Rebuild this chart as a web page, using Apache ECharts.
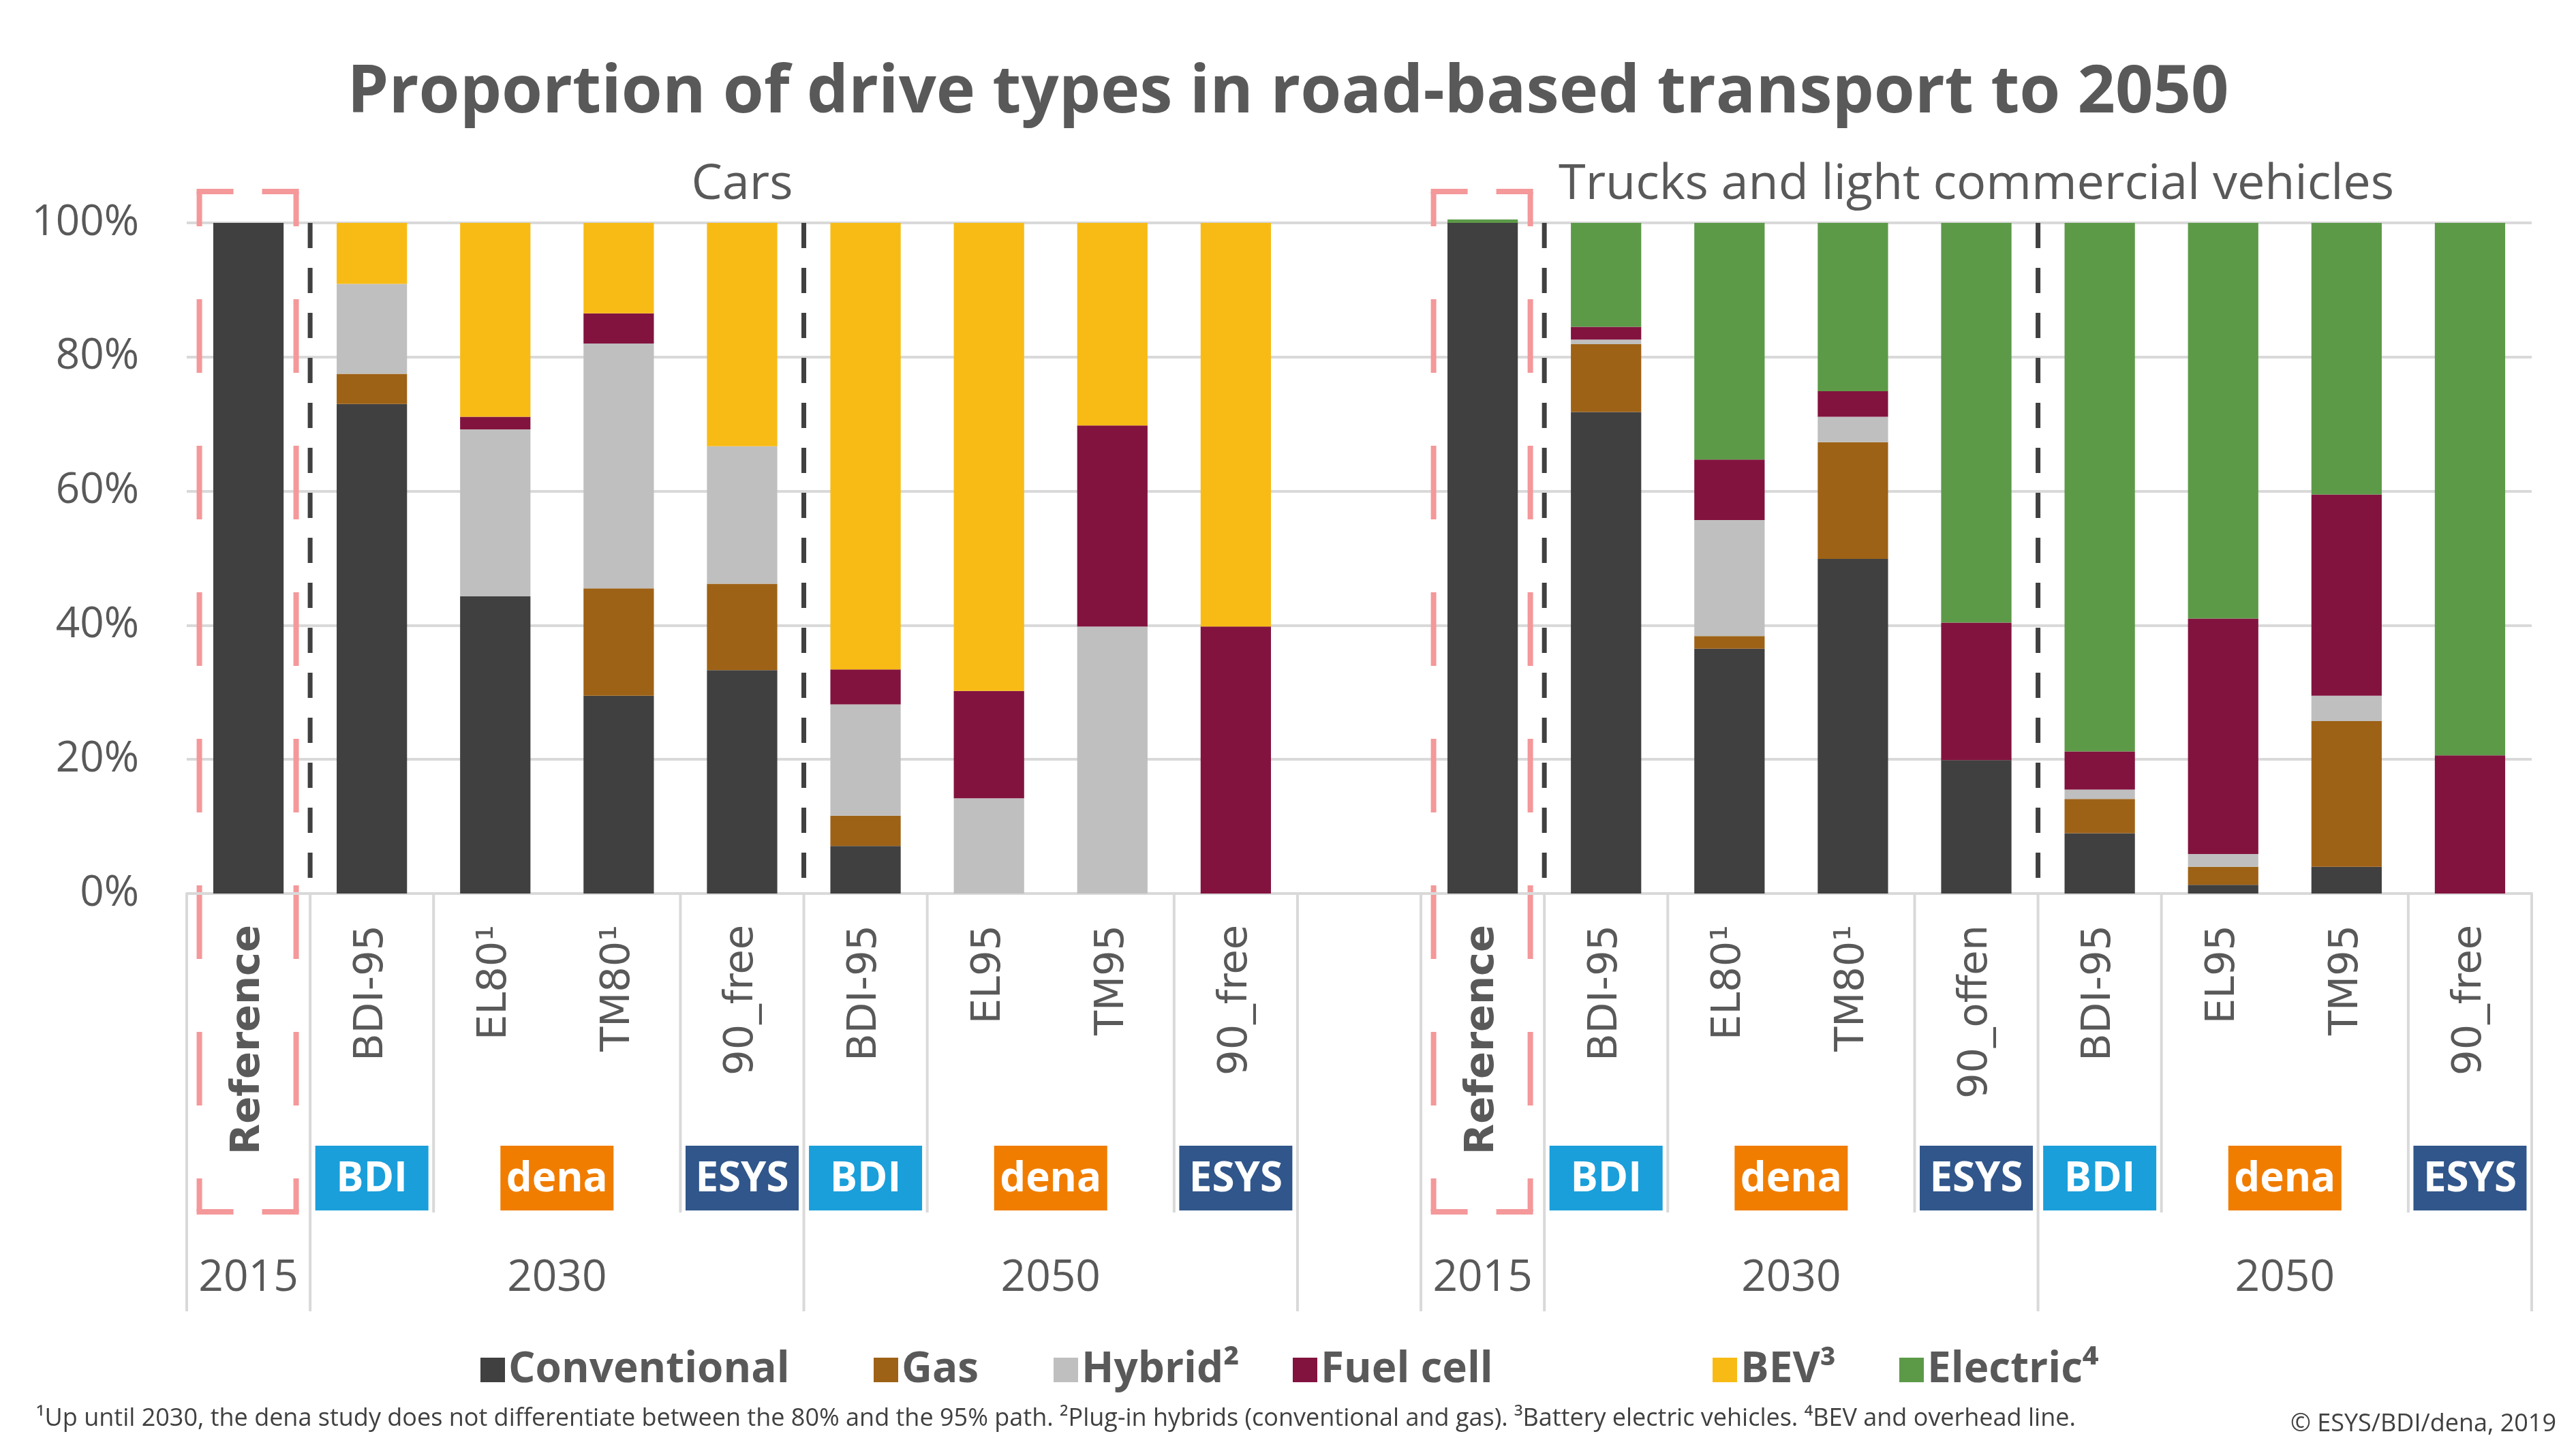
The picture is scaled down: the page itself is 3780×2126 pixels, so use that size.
<!DOCTYPE html>
<html>
<head>
<meta charset="utf-8">
<script src="https://cdn.jsdelivr.net/npm/echarts@6/dist/echarts.min.js"></script>
<style>
html, body { margin: 0; padding: 0; background: #fff; }
#main { width: 3780px; height: 2126px; }
</style>
</head>
<body>
<div id="main"></div>
<script>
// scenarios on the x axis (index 9 is the gap between cars and trucks)
var categories = ['Reference', 'BDI-95', 'EL80¹', 'TM80¹', '90_free', 'BDI-95', 'EL95', 'TM95', '90_free', '',
                  'Reference', 'BDI-95', 'EL80¹', 'TM80¹', '90_offen', 'BDI-95', 'EL95', 'TM95', '90_free'];

// shares in %
var conventional = [100, 73.0, 44.3, 29.5, 33.3, 7.1, 0, 0, 0, null, 100, 71.8, 36.5, 49.9, 19.9, 9.0, 1.3, 4.0, 0];
var gas          = [0, 4.5, 0, 16.0, 12.9, 4.5, 0, 0, 0, null, 0, 10.1, 1.9, 17.4, 0, 5.1, 2.7, 21.7, 0];
var hybrid       = [0, 13.4, 24.9, 36.5, 20.5, 16.6, 14.2, 39.8, 0, null, 0, 0.7, 17.3, 3.8, 0, 1.4, 1.9, 3.8, 0];
var fuelCell     = [0, 0, 1.9, 4.5, 0, 5.2, 16.0, 30.0, 39.8, null, 0, 1.9, 9.0, 3.8, 20.5, 5.7, 35.1, 30.0, 20.6];
var bev          = [0, 9.1, 28.9, 13.5, 33.3, 66.6, 69.8, 30.2, 60.2, null, 0, 0, 0, 0, 0, 0, 0, 0, 0];
var electric     = [0, 0, 0, 0, 0, 0, 0, 0, 0, null, 0.5, 15.5, 35.3, 25.1, 59.6, 78.8, 59.0, 40.5, 79.4];

var seriesNames = ['Conventional', 'Gas', 'Hybrid²', 'Fuel cell', 'BEV³', 'Electric⁴'];
var seriesColors = ['#404040', '#9e6216', '#bfbfbf', '#82133f', '#f8bb16', '#5c9a48'];

// annotation rows below the axis (positions in category units)
var panelTitles = ['Cars', 'Trucks and light commercial vehicles'];
var panelAt = [4, 14];
var studyLabels = ['BDI', 'dena', 'ESYS', 'BDI', 'dena', 'ESYS', 'BDI', 'dena', 'ESYS', 'BDI', 'dena', 'ESYS'];
var studyAt = [1, 2.5, 4, 5, 6.5, 8, 11, 12.5, 14, 15, 16.5, 18];
var studyColors = { BDI: '#1a9fda', dena: '#f07d00', ESYS: '#30568b' };
var yearLabels = ['2015', '2030', '2050', '2015', '2030', '2050'];
var yearAt = [0, 2.5, 6.5, 10, 12.5, 16.5];
var studyBounds = [1.5, 3.5, 5.5, 7.5, 11.5, 13.5, 15.5, 17.5];
var yearBounds = [-0.5, 0.5, 4.5, 8.5, 9.5, 10.5, 14.5, 18.5];
var periodBounds = [0.5, 4.5, 10.5, 14.5];
var referenceAt = [0, 10];

var legendLeft = [700, 1277, 1541, 1892, 2508, 2782];

var grey = '#595959';
var chart = echarts.init(document.getElementById('main'));

var seriesData = [conventional, gas, hybrid, fuelCell, bev, electric];
var series = seriesData.map(function (d, i) {
    return {
        name: seriesNames[i],
        type: 'bar',
        stack: 'share',
        barWidth: '57%',
        clip: false,
        itemStyle: { color: seriesColors[i] },
        data: d
    };
});

var legends = seriesNames.map(function (n, i) {
    return {
        data: [n],
        left: legendLeft[i],
        top: 1974,
        icon: 'rect',
        itemWidth: 36,
        itemHeight: 36,
        itemGap: 0,
        textStyle: { fontFamily: 'Open Sans', fontWeight: 'bold', fontSize: 62, color: grey }
    };
});

var option = {
    animation: false,
    backgroundColor: '#fff',
    title: {
        text: 'Proportion of drive types in road-based transport to 2050',
        left: 'center',
        top: 84,
        textStyle: { fontFamily: 'Open Sans', fontWeight: 'bold', fontSize: 97, color: grey }
    },
    legend: legends,
    grid: { left: 274, right: 65, top: 327, bottom: 815 },
    xAxis: {
        type: 'category',
        data: categories,
        axisLine: { lineStyle: { color: '#d9d9d9', width: 4 } },
        axisTick: { show: false },
        axisLabel: {
            interval: 0,
            rotate: 90,
            margin: 46,
            fontFamily: 'DejaVu Sans',
            fontSize: 59,
            color: grey,
            formatter: function (v) { return v === 'Reference' ? '{b|' + v + '}' : v; },
            rich: { b: { fontFamily: 'DejaVu Sans', fontWeight: 'bold', fontSize: 59, color: grey } }
        }
    },
    yAxis: {
        type: 'value',
        min: 0,
        max: 100,
        interval: 20,
        axisLine: { show: false },
        axisTick: { show: false },
        axisLabel: { formatter: '{value}%', fontFamily: 'Open Sans', fontSize: 62, color: grey, margin: 70 },
        splitLine: { lineStyle: { color: '#d9d9d9', width: 4 } }
    },
    series: series
};
chart.setOption(option);

// extra drawing tied to the axis positions
var x0 = chart.convertToPixel({ xAxisIndex: 0 }, 0);
var band = chart.convertToPixel({ xAxisIndex: 0 }, 1) - x0;
function pos(v) { return x0 + v * band; }
var yBottom = chart.convertToPixel({ yAxisIndex: 0 }, 0);
var yTop = chart.convertToPixel({ yAxisIndex: 0 }, 100);

var g = [];
panelTitles.forEach(function (t, i) {
    g.push({ type: 'text', style: { text: t, x: pos(panelAt[i]), y: 271, align: 'center', verticalAlign: 'middle',
        font: '72px "Open Sans"', fill: grey } });
});
periodBounds.forEach(function (b) {
    g.push({ type: 'line', shape: { x1: pos(b), y1: yTop, x2: pos(b), y2: yBottom },
        style: { stroke: '#404040', lineWidth: 7, lineDash: [37, 29] } });
});
studyBounds.forEach(function (b) {
    g.push({ type: 'line', shape: { x1: pos(b), y1: yBottom, x2: pos(b), y2: 1779 },
        style: { stroke: '#d9d9d9', lineWidth: 4 } });
});
yearBounds.forEach(function (b) {
    g.push({ type: 'line', shape: { x1: pos(b), y1: yBottom, x2: pos(b), y2: 1924 },
        style: { stroke: '#d9d9d9', lineWidth: 4 } });
});
studyLabels.forEach(function (s, i) {
    var cx = pos(studyAt[i]);
    g.push({ type: 'rect', shape: { x: cx - 83, y: 1681, width: 166, height: 95 }, style: { fill: studyColors[s] } });
    g.push({ type: 'text', style: { text: s, x: cx, y: 1731, align: 'center', verticalAlign: 'middle',
        font: 'bold 60px "Open Sans"', fill: '#fff' } });
});
yearLabels.forEach(function (t, i) {
    g.push({ type: 'text', style: { text: t, x: pos(yearAt[i]), y: 1876, align: 'center', verticalAlign: 'middle',
        font: '64px "Open Sans"', fill: grey } });
});
referenceAt.forEach(function (c) {
    var l = pos(c) - 72, r = pos(c) + 70, t = 281, b = 1778;
    var st = { stroke: '#f4989a', lineWidth: 8 };
    g.push({ type: 'line', shape: { x1: l, y1: t, x2: l, y2: b }, style: Object.assign({ lineDash: [108, 107], lineDashOffset: 57 }, st) });
    g.push({ type: 'line', shape: { x1: r, y1: t, x2: r, y2: b }, style: Object.assign({ lineDash: [108, 107], lineDashOffset: 57 }, st) });
    g.push({ type: 'line', shape: { x1: l - 4, y1: t, x2: r + 4, y2: t }, style: Object.assign({ lineDash: [54, r - l - 100] }, st) });
    g.push({ type: 'line', shape: { x1: l - 4, y1: b, x2: r + 4, y2: b }, style: Object.assign({ lineDash: [54, r - l - 100] }, st) });
});
g.push({ type: 'text', style: { text: '¹Up until 2030, the dena study does not differentiate between the 80% and the 95% path. ²Plug-in hybrids (conventional and gas). ³Battery electric vehicles. ⁴BEV and overhead line.',
    x: 53, y: 2082, align: 'left', verticalAlign: 'middle', font: '36px "Open Sans"', fill: '#404040' } });
g.push({ type: 'text', style: { text: '© ESYS/BDI/dena, 2019', x: 3751, y: 2090, align: 'right', verticalAlign: 'middle',
    font: '36px "Open Sans"', fill: '#404040' } });

chart.setOption({ graphic: g });
</script>
</body>
</html>
